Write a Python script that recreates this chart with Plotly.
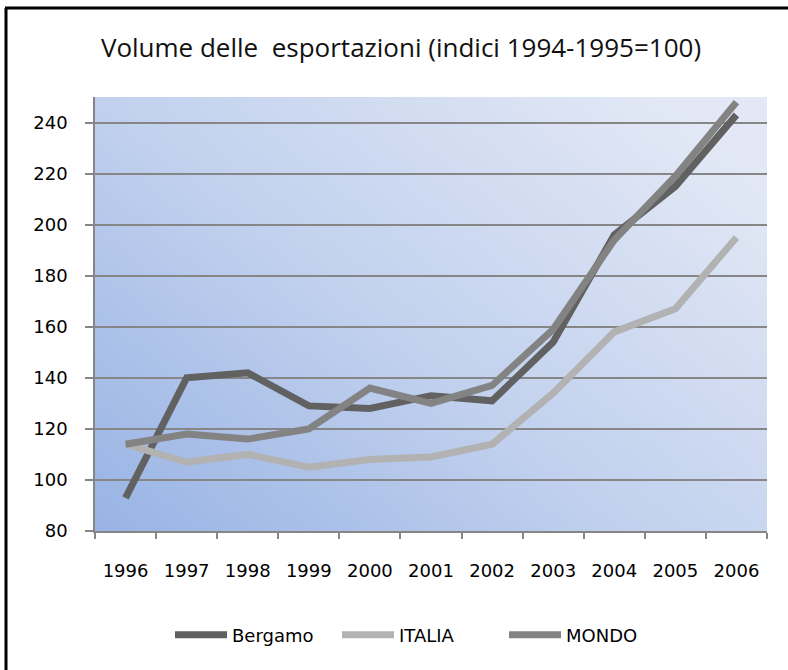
import base64
import plotly.graph_objects as go

years = ["1996", "1997", "1998", "1999", "2000", "2001", "2002", "2003", "2004", "2005", "2006"]
bergamo = [93, 140, 142, 129, 128, 133, 131, 154, 196, 215, 243]
italia = [114, 107, 110, 105, 108, 109, 114, 134, 158, 167, 195]
mondo = [114, 118, 116, 120, 136, 130, 137, 159, 194, 219, 248]
series_names = ["Bergamo", "ITALIA", "MONDO"]
series_colors = ["#616161", "#b2b2b2", "#838383"]
title_text = "Volume delle  esportazioni (indici 1994-1995=100)"

W, H = 788, 670
L, R, T, B = 95, 21, 97, 139
pw, ph = W - L - R, H - T - B

svg = (
    '<svg xmlns="http://www.w3.org/2000/svg" width="672" height="434" '
    'viewBox="0 0 672 434" preserveAspectRatio="none">'
    '<defs><linearGradient id="g" x1="0" y1="1" x2="1" y2="0.2">'
    '<stop offset="0" stop-color="#98b3e4"/>'
    '<stop offset="0.5" stop-color="#c2d1ee"/>'
    '<stop offset="1" stop-color="#e2e8f5"/>'
    '</linearGradient></defs>'
    '<rect width="672" height="434" fill="url(#g)"/></svg>'
)
bg_src = "data:image/svg+xml;base64," + base64.b64encode(svg.encode()).decode()

fig = go.Figure()
for name, vals, col in zip(series_names, [bergamo, italia, mondo], series_colors):
    fig.add_trace(go.Scatter(
        x=years, y=vals, name=name, mode="lines",
        line=dict(color=col, width=7),
    ))

def px_x(p):
    return (p - L) / pw

def px_y(p):
    return (H - B - p) / ph

fig.update_layout(
    width=W, height=H,
    margin=dict(l=L, r=R, t=T, b=B),
    paper_bgcolor="white",
    plot_bgcolor="rgba(0,0,0,0)",
    title=dict(
        text=title_text, x=401 / W, xref="container", xanchor="center",
        y=1 - 48 / H, yref="container", yanchor="middle",
        font=dict(family="Open Sans", size=26, color="#111111"),
    ),
    images=[dict(
        source=bg_src, xref="paper", yref="paper", x=0, y=1,
        sizex=1, sizey=1, sizing="stretch", layer="below",
        xanchor="left", yanchor="top",
    )],
    legend=dict(
        orientation="h", x=px_x(170), xanchor="left",
        y=px_y(635), yanchor="middle",
        font=dict(family="DejaVu Sans", size=18, color="#000000"),
        itemwidth=52,
        entrywidth=100, entrywidthmode="pixels",
        bgcolor="rgba(0,0,0,0)",
    ),
    shapes=[
        dict(type="line", xref="paper", yref="paper",
             x0=px_x(6), x1=px_x(6), y0=px_y(700), y1=px_y(8),
             line=dict(color="black", width=3)),
        dict(type="line", xref="paper", yref="paper",
             x0=px_x(5), x1=px_x(800), y0=px_y(8), y1=px_y(8),
             line=dict(color="black", width=3)),
    ],
    showlegend=True,
)

fig.update_xaxes(
    type="category", range=[-0.5, 10.5], tickson="boundaries",
    ticks="outside", ticklen=6, tickcolor="#868686", tickwidth=1.5,
    showline=True, linecolor="#868686", linewidth=2,
    showgrid=False, zeroline=False,
    tickfont=dict(family="DejaVu Sans", size=18, color="#000000"),
    ticklabelstandoff=22,
)
fig.update_yaxes(
    range=[80, 250], dtick=20, tick0=80,
    ticks="outside", ticklen=8, tickcolor="#868686", tickwidth=1.5,
    showline=True, linecolor="#868686", linewidth=1.5,
    showgrid=True, gridcolor="#868686", gridwidth=1.5,
    zeroline=False,
    tickfont=dict(family="DejaVu Sans", size=18, color="#000000"),
    ticklabelstandoff=14,
)

fig.write_html(
    "out.html",
    config={"displayModeBar": False},
    post_script="document.body.style.margin='0';document.body.style.overflow='hidden';",
)
